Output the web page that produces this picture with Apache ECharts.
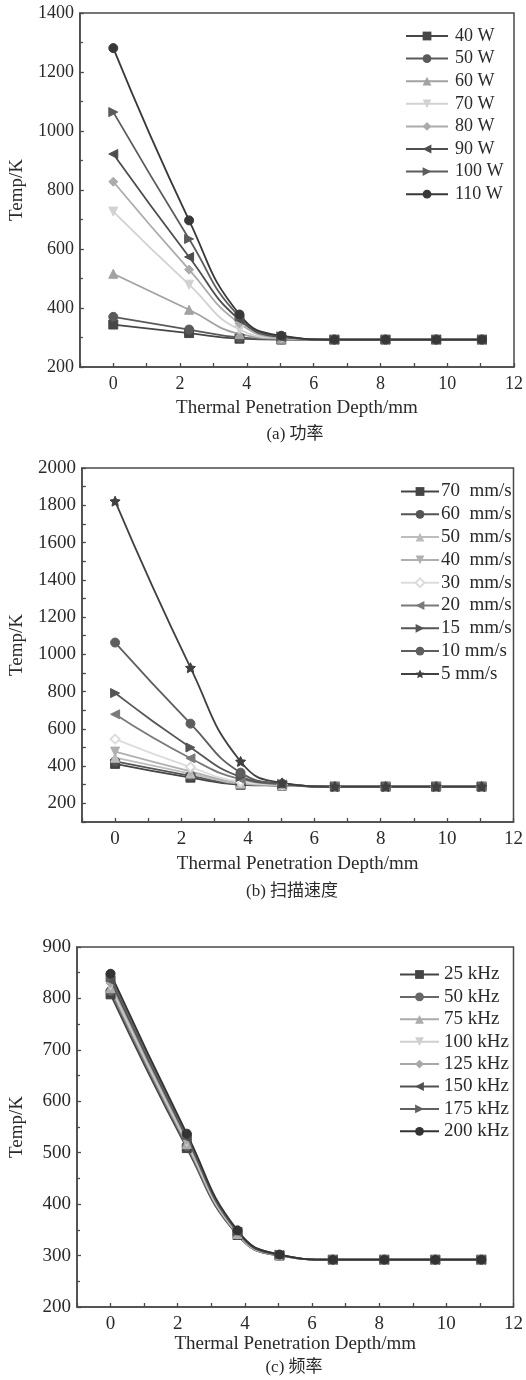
<!DOCTYPE html>
<html>
<head>
<meta charset="utf-8">
<script src="https://cdn.jsdelivr.net/npm/echarts@6/dist/echarts.min.js"></script>
<style>
html,body{margin:0;padding:0;background:#fff;}
#chart{width:526px;height:1380px;}
</style>
</head>
<body>
<div id="chart"></div>
<script>
// ---- data ----
const xDepth = [0, 2.27, 3.78, 5.03, 6.62, 8.15, 9.67, 11.04];

const namesA = ['40 W', '50 W', '60 W', '70 W', '80 W', '90 W', '100 W', '110 W'];
const w40  = [344, 315, 296, 293, 293, 293, 293, 293];
const w50  = [370, 327, 300, 294, 293, 293, 293, 293];
const w60  = [516, 394, 312, 296, 293, 293, 293, 293];
const w70  = [727, 479, 327, 298, 293, 293, 293, 293];
const w80  = [828, 530, 348, 300, 293, 293, 293, 293];
const w90  = [922, 573, 360, 302, 293, 293, 293, 293];
const w100 = [1064, 634, 370, 304, 293, 293, 293, 293];
const w110 = [1281, 697, 378, 306, 293, 293, 293, 293];
const valuesA = [w40, w50, w60, w70, w80, w90, w100, w110];

const namesB = ['70  mm/s', '60  mm/s', '50  mm/s', '40  mm/s', '30  mm/s', '20  mm/s', '15  mm/s', '10 mm/s', '5 mm/s'];
const v70 = [412, 338, 300, 295, 290, 290, 290, 290];
const v60 = [425, 348, 303, 296, 290, 290, 290, 290];
const v50 = [445, 360, 306, 297, 290, 290, 290, 290];
const v40 = [478, 372, 310, 298, 290, 290, 290, 290];
const v30 = [545, 395, 316, 300, 290, 290, 290, 290];
const v20 = [678, 442, 330, 302, 290, 290, 290, 290];
const v15 = [792, 500, 342, 304, 290, 290, 290, 290];
const v10 = [1063, 628, 365, 306, 290, 290, 290, 290];
const v5  = [1822, 928, 425, 310, 290, 290, 290, 290];
const valuesB = [v70, v60, v50, v40, v30, v20, v15, v10, v5];

const namesC = ['25 kHz', '50 kHz', '75 kHz', '100 kHz', '125 kHz', '150 kHz', '175 kHz', '200 kHz'];
const f25  = [808, 509, 340, 300, 292, 292, 292, 292];
const f50  = [815, 513, 341, 300, 292, 292, 292, 292];
const f75  = [820, 517, 342, 300, 292, 292, 292, 292];
const f100 = [825, 521, 343, 301, 292, 292, 292, 292];
const f125 = [830, 525, 344, 301, 292, 292, 292, 292];
const f150 = [835, 529, 346, 301, 292, 292, 292, 292];
const f175 = [841, 533, 347, 302, 292, 292, 292, 292];
const f200 = [848, 537, 349, 302, 292, 292, 292, 292];
const valuesC = [f25, f50, f75, f100, f125, f150, f175, f200];

const captions = ['(a) 功率', '(b) 扫描速度', '(c) 频率'];
const xName = 'Thermal Penetration Depth/mm';
const yName = 'Temp/K';

// ---- styles ----
const FONT = '"Liberation Serif", "Noto Sans CJK SC", serif';
const STAR = 'path://M0,-10 L2.9,-4 L9.5,-3.1 L4.7,1.5 L5.9,8.1 L0,5 L-5.9,8.1 L-4.7,1.5 L-9.5,-3.1 L-2.9,-4 Z';
const styleA = [
  {c:'#474747', s:'rect', r:0},
  {c:'#5a5a5a', s:'circle', r:0},
  {c:'#a2a2a2', s:'triangle', r:0},
  {c:'#d2d2d2', s:'triangle', r:180},
  {c:'#ababab', s:'diamond', r:0},
  {c:'#4e4e4e', s:'triangle', r:90},
  {c:'#5c5c5c', s:'triangle', r:-90},
  {c:'#383838', s:'circle', r:0}
];
const styleB = [
  {c:'#454545', s:'rect', r:0},
  {c:'#555555', s:'circle', r:0},
  {c:'#bdbdbd', s:'triangle', r:0},
  {c:'#b0b0b0', s:'triangle', r:180},
  {c:'#dcdcdc', s:'emptyDiamond', r:0},
  {c:'#7a7a7a', s:'triangle', r:90},
  {c:'#555555', s:'triangle', r:-90},
  {c:'#5e5e5e', s:'circle', r:0},
  {c:'#404040', s:STAR, r:0}
];
const styleC = [
  {c:'#444444', s:'rect', r:0},
  {c:'#676767', s:'circle', r:0},
  {c:'#ababab', s:'triangle', r:0},
  {c:'#cfcfcf', s:'triangle', r:180},
  {c:'#a8a8a8', s:'diamond', r:0},
  {c:'#505050', s:'triangle', r:90},
  {c:'#606060', s:'triangle', r:-90},
  {c:'#333333', s:'circle', r:0}
];

const grids = [
  {left: 74, right: 11, top: 13, bottom: 1013},
  {left: 77, right: 7, top: 468, bottom: 558},
  {left: 71, right: 9, top: 947, bottom: 73}
];

function makeSeries(names, values, styles, idx) {
  return names.map((n, i) => ({
    name: n,
    type: 'line',
    xAxisIndex: idx,
    yAxisIndex: idx,
    smooth: 0.5,
    symbol: styles[i].s,
    symbolRotate: styles[i].r,
    symbolSize: styles[i].s === STAR ? 10 : 9,
    showAllSymbol: true,
    lineStyle: {color: styles[i].c, width: 1.8},
    itemStyle: {color: styles[i].c, borderColor: styles[i].c},
    data: xDepth.map((x, k) => [x, values[i][k]]),
    animation: false
  }));
}

const axisCommon = {
  axisLine: {show: true, onZero: false, lineStyle: {color: '#4a4a4a', width: 1.5}},
  axisTick: {show: true, inside: true, length: 4, lineStyle: {color: '#4a4a4a', width: 1.3}},
  splitLine: {show: false},
  nameTextStyle: {fontFamily: FONT, fontSize: 19, color: '#2a2a2a'}
};

function xAxis(idx, gap, fs) {
  return Object.assign({}, axisCommon, {
    type: 'value', gridIndex: idx, min: -1, max: 12, interval: 1,
    name: xName, nameLocation: 'middle', nameGap: gap,
    axisLabel: {fontFamily: FONT, fontSize: fs, color: '#2a2a2a', margin: 8,
      formatter: v => (v >= 0 && v % 2 === 0) ? String(v) : ''}
  });
}

const option = {
  backgroundColor: '#ffffff',
  animation: false,
  grid: grids.map(g => Object.assign({show: true, borderColor: '#4a4a4a', borderWidth: 1.5, backgroundColor: 'transparent'}, g)),
  xAxis: [xAxis(0, 32, 18), xAxis(1, 33, 19), xAxis(2, 28, 19)],
  yAxis: [
    Object.assign({}, axisCommon, {
      type: 'value', gridIndex: 0, min: 200, max: 1400, interval: 200,
      name: yName, nameLocation: 'middle', nameGap: 50,
      minorTick: {show: true, splitNumber: 2, length: 3, lineStyle: {color: '#4a4a4a', width: 1.3}},
      minorSplitLine: {show: false},
      axisLabel: {fontFamily: FONT, fontSize: 18, color: '#2a2a2a', margin: 6, formatter: v => String(v)}
    }),
    Object.assign({}, axisCommon, {
      type: 'value', gridIndex: 1, min: 100, max: 2000, interval: 100,
      name: yName, nameLocation: 'middle', nameGap: 53,
      axisLabel: {fontFamily: FONT, fontSize: 19, color: '#2a2a2a', margin: 6,
        formatter: v => (v % 200 === 0) ? String(v) : ''}
    }),
    Object.assign({}, axisCommon, {
      type: 'value', gridIndex: 2, min: 200, max: 900, interval: 100,
      name: yName, nameLocation: 'middle', nameGap: 50,
      minorTick: {show: true, splitNumber: 2, length: 3, lineStyle: {color: '#4a4a4a', width: 1.3}},
      minorSplitLine: {show: false},
      axisLabel: {fontFamily: FONT, fontSize: 19, color: '#2a2a2a', margin: 6, formatter: v => String(v)}
    })
  ],
  legend: [
    {data: namesA, orient: 'vertical', left: 400, top: 22, itemWidth: 42, itemHeight: 11, itemGap: 4.6,
      textStyle: {fontFamily: FONT, fontSize: 18, lineHeight: 18, color: '#2a2a2a', padding: [0, 0, 0, 2]}},
    {data: namesB, orient: 'vertical', left: 395, top: 477, itemWidth: 38, itemHeight: 11, itemGap: 3.8,
      textStyle: {fontFamily: FONT, fontSize: 19, lineHeight: 18, color: '#2a2a2a', padding: [0, 0, 0, -3]}},
    {data: namesC, orient: 'vertical', left: 394, top: 960, itemWidth: 39, itemHeight: 11, itemGap: 3.4,
      textStyle: {fontFamily: FONT, fontSize: 19, lineHeight: 18, color: '#2a2a2a'}}
  ],
  graphic: [
    {type: 'text', x: 295, y: 435, style: {text: captions[0], font: '17px "Liberation Serif", "Noto Sans CJK SC"', fill: '#2a2a2a', textAlign: 'center', textVerticalAlign: 'middle'}},
    {type: 'text', x: 292, y: 892, style: {text: captions[1], font: '17px "Liberation Serif", "Noto Sans CJK SC"', fill: '#2a2a2a', textAlign: 'center', textVerticalAlign: 'middle'}},
    {type: 'text', x: 294, y: 1368, style: {text: captions[2], font: '17px "Liberation Serif", "Noto Sans CJK SC"', fill: '#2a2a2a', textAlign: 'center', textVerticalAlign: 'middle'}}
  ],
  series: [].concat(
    makeSeries(namesA, valuesA, styleA, 0),
    makeSeries(namesB, valuesB, styleB, 1),
    makeSeries(namesC, valuesC, styleC, 2)
  )
};

const chart = echarts.init(document.getElementById('chart'), null, {renderer: 'canvas'});
chart.setOption(option);
</script>
</body>
</html>
